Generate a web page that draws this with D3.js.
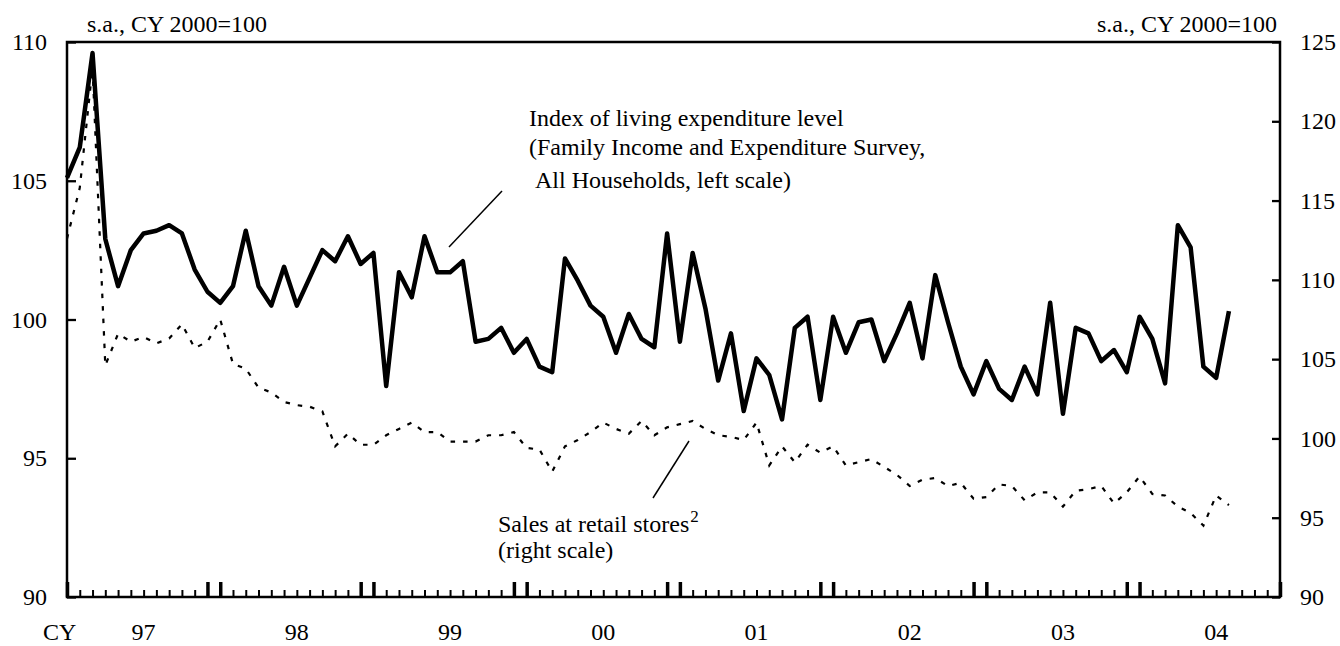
<!DOCTYPE html>
<html>
<head>
<meta charset="utf-8">
<script src="https://cdn.jsdelivr.net/npm/d3@7"></script>
<style>
  html, body { margin: 0; padding: 0; background: #fff; }
  svg text { font-family: "Liberation Serif", "DejaVu Serif", serif; font-size: 24px; fill: #000; }
</style>
</head>
<body>
<svg id="chart" width="1340" height="646"></svg>
<script>
/* Monthly, Jan 1997 onwards */
var years = ['97', '98', '99', '00', '01', '02', '03', '04'];

/* Index of living expenditure level, left scale */
var living = [
  105.1, 106.2, 109.6, 102.9, 101.2, 102.5, 103.1, 103.2, 103.4, 103.1, 101.8, 101.0,
  100.6, 101.2, 103.2, 101.2, 100.5, 101.9, 100.5, 101.5, 102.5, 102.1, 103.0, 102.0,
  102.4,  97.6, 101.7, 100.8, 103.0, 101.7, 101.7, 102.1,  99.2,  99.3,  99.7,  98.8,
   99.3,  98.3,  98.1, 102.2, 101.4, 100.5, 100.1,  98.8, 100.2,  99.3,  99.0, 103.1,
   99.2, 102.4, 100.4,  97.8,  99.5,  96.7,  98.6,  98.0,  96.4,  99.7, 100.1,  97.1,
  100.1,  98.8,  99.9, 100.0,  98.5,  99.5, 100.6,  98.6, 101.6,  99.9,  98.3,  97.3,
   98.5,  97.5,  97.1,  98.3,  97.3, 100.6,  96.6,  99.7,  99.5,  98.5,  98.9,  98.1,
  100.1,  99.3,  97.7, 103.4, 102.6,  98.3,  97.9, 100.3
];

/* Sales at retail stores, right scale */
var retail = [
  112.6, 115.8, 123.4, 104.6, 106.6, 106.1, 106.4, 106.0, 106.3, 107.2, 105.7, 106.1,
  107.5, 104.7, 104.4, 103.2, 102.9, 102.3, 102.1, 102.0, 101.7,  99.5, 100.3,  99.6,
   99.6, 100.2, 100.6, 101.0, 100.4, 100.4,  99.8,  99.8,  99.8, 100.2, 100.2, 100.4,
   99.4,  99.3,  97.9,  99.5,  99.9, 100.4, 101.0, 100.6, 100.3, 101.1, 100.2, 100.7,
  100.9, 101.1, 100.6, 100.2, 100.1,  99.9, 101.0,  98.3,  99.5,  98.5,  99.6,  99.1,
   99.5,  98.3,  98.5,  98.7,  98.2,  97.7,  97.0,  97.4,  97.5,  97.0,  97.2,  96.2,
   96.3,  97.1,  97.0,  96.1,  96.6,  96.6,  95.7,  96.7,  96.8,  97.0,  95.9,  96.6,
   97.6,  96.5,  96.4,  95.7,  95.3,  94.5,  96.4,  95.8
];

var leftTicks  = [90, 95, 100, 105, 110];
var rightTicks = [90, 95, 100, 105, 110, 115, 120, 125];
var unitLabel  = 's.a., CY 2000=100';

var svg = d3.select('#chart'),
    plotLeft = 67, plotRight = 1280, plotTop = 42, plotBottom = 597,
    nMonths = years.length * 12;

var x  = d3.scaleLinear().domain([0, nMonths - 1]).range([plotLeft, plotRight]);
var yL = d3.scaleLinear().domain([90, 110]).range([plotBottom, plotTop]);
var yR = d3.scaleLinear().domain([90, 125]).range([plotBottom, plotTop]);

/* left axis, ticks pointing into the plot */
svg.append('g')
  .attr('transform', 'translate(' + plotLeft + ',0)')
  .call(d3.axisLeft(yL).tickValues(leftTicks).tickSize(-9).tickPadding(20))
  .call(function (g) { g.select('.domain').remove(); })
  .call(function (g) {
    g.selectAll('line').attr('stroke', '#000').attr('stroke-width', 2.3);
    g.selectAll('text').attr('font-family', null).attr('font-size', null);
  });

svg.append('g')
  .attr('transform', 'translate(' + plotRight + ',0)')
  .call(d3.axisRight(yR).tickValues(rightTicks).tickSize(-8).tickPadding(20))
  .call(function (g) { g.select('.domain').remove(); })
  .call(function (g) {
    g.selectAll('line').attr('stroke', '#000').attr('stroke-width', 2.3);
    g.selectAll('text').attr('font-family', null).attr('font-size', null);
  });

/* month ticks; Dec and Jan get the tall ones */
svg.append('g')
  .attr('transform', 'translate(0,' + plotBottom + ')')
  .call(d3.axisBottom(x).tickValues(d3.range(nMonths)).tickSize(-7).tickFormat(''))
  .call(function (g) { g.select('.domain').remove(); })
  .call(function (g) {
    g.selectAll('line').attr('stroke', '#000').attr('stroke-width', 2);
    g.selectAll('.tick')
      .filter(function (d) { return d % 12 === 11 || d % 12 === 0; })
      .select('line')
      .attr('y2', -15)
      .attr('stroke-width', 3.5);
  });

svg.append('g')
  .selectAll('text')
  .data(years)
  .join('text')
  .attr('x', function (d, i) { return x(6 + i * 12); })
  .attr('y', 640)
  .attr('text-anchor', 'middle')
  .text(function (d) { return d; });

svg.append('text').attr('x', 43).attr('y', 640).text('CY');

svg.append('text').attr('x', 87).attr('y', 32).text(unitLabel);
svg.append('text').attr('x', 1277).attr('y', 32).attr('text-anchor', 'end').text(unitLabel);

/* plot frame */
svg.append('rect')
  .attr('x', plotLeft)
  .attr('y', plotTop)
  .attr('width', plotRight - plotLeft)
  .attr('height', plotBottom - plotTop)
  .attr('fill', 'none')
  .attr('stroke', '#000')
  .attr('stroke-width', 2.5);

var lineL = d3.line()
  .x(function (d, i) { return x(i); })
  .y(function (d) { return yL(d); });

var lineR = d3.line()
  .x(function (d, i) { return x(i); })
  .y(function (d) { return yR(d); });

svg.append('path')
  .datum(retail)
  .attr('d', lineR)
  .attr('fill', 'none')
  .attr('stroke', '#000')
  .attr('stroke-width', 2.2)
  .attr('stroke-dasharray', '4.5,8');

svg.append('path')
  .datum(living)
  .attr('d', lineL)
  .attr('fill', 'none')
  .attr('stroke', '#000')
  .attr('stroke-width', 4.5)
  .attr('stroke-linejoin', 'round');

/* annotations */
var note1 = svg.append('g');
note1.append('text').attr('x', 529).attr('y', 126).text('Index of living expenditure level');
note1.append('text').attr('x', 529).attr('y', 155).text('(Family Income and Expenditure Survey,');
note1.append('text').attr('x', 535).attr('y', 188).text('All Households, left scale)');
note1.append('line')
  .attr('x1', 502).attr('y1', 191).attr('x2', 449).attr('y2', 247)
  .attr('stroke', '#000').attr('stroke-width', 1.5);

var note2 = svg.append('g');
var t2 = note2.append('text').attr('x', 498).attr('y', 532);
t2.append('tspan').text('Sales at retail stores');
t2.append('tspan').attr('dy', -10).attr('dx', 1).style('font-size', '17px').text('2');
note2.append('text').attr('x', 498).attr('y', 558).text('(right scale)');
note2.append('line')
  .attr('x1', 689).attr('y1', 441).attr('x2', 653).attr('y2', 498)
  .attr('stroke', '#000').attr('stroke-width', 1.5);
</script>
</body>
</html>
